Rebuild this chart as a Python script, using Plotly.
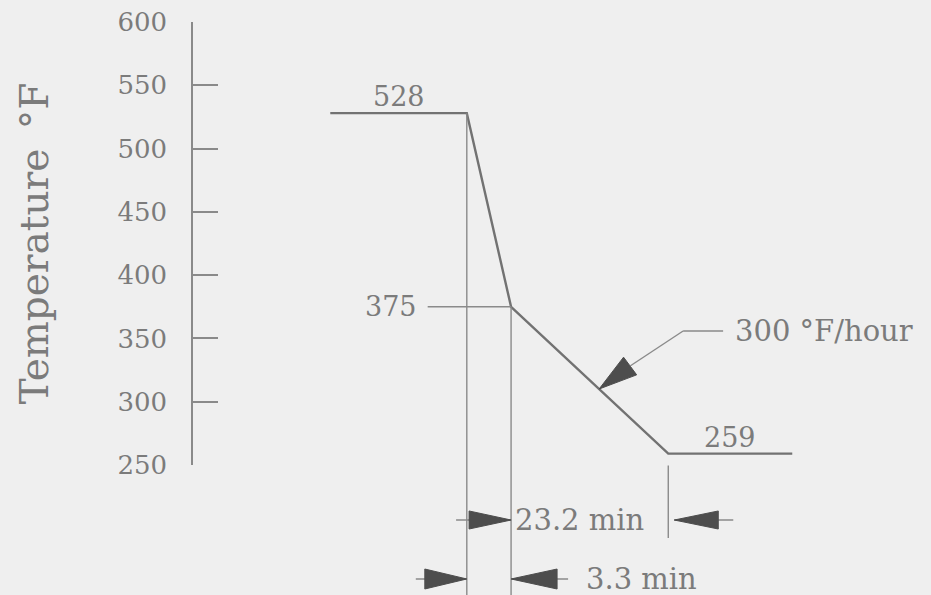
import plotly.graph_objects as go

# Cooldown profile (temperature in °F) at the breakpoints of the schematic time line
temps = [528, 528, 375, 259, 259]
# Horizontal placement of the breakpoints on the (not-to-scale) time axis
x_pos = [18.6, 37.1, 43.1, 64.4, 81.2]
# Durations of the two ramps, in minutes
ramp_minutes = [3.3, 23.2]
rate_text = "300 °F/hour"
ytick_vals = [250, 300, 350, 400, 450, 500, 550, 600]

FONT = "DejaVu Serif"
TXT = "#7b7b7b"
LINE = "#727272"
THIN = "#8a8a8a"
HEAD = "#4d4d4d"
BG = "#efefef"

W, H = 931, 595
ML, MR, MT, MB = 193, 0, 22, 130
PW, PH = W - ML - MR, H - MT - MB
XR = (0, 100)
YR = (250, 600)
PX_X = PW / (XR[1] - XR[0])   # px per x unit
PX_Y = PH                    # px per paper unit


def yp(t):
    """temperature -> paper y"""
    return (t - YR[0]) / (YR[1] - YR[0])


def tri(tx, ty, dx, dy, hw):
    """filled arrowhead: tip at (tx data, ty paper); (dx, dy) px from tip to base (screen, y down)"""
    ln = (dx * dx + dy * dy) ** 0.5
    nx, ny = -dy / ln * hw, dx / ln * hw
    pts = [(0, 0), (dx + nx, dy + ny), (dx - nx, dy - ny)]
    path = ""
    for i, (px, py) in enumerate(pts):
        path += ("M" if i == 0 else "L") + f"{tx + px / PX_X:.4f},{ty - py / PX_Y:.4f} "
    return dict(type="path", path=path + "Z", xref="x", yref="paper",
                fillcolor=HEAD, line=dict(color=HEAD, width=1))


def seg(x0, y0, x1, y1, color=THIN, width=1.4):
    return dict(type="line", xref="x", yref="paper", x0=x0, y0=y0, x1=x1, y1=y1,
                line=dict(color=color, width=width))


fig = go.Figure()
fig.add_trace(go.Scatter(x=x_pos, y=temps, mode="lines",
                         line=dict(color=LINE, width=2.4),
                         hoverinfo="skip", showlegend=False, cliponaxis=False))

bottom = -MB / PH
t_start, t_mid, t_end = x_pos[1], x_pos[2], x_pos[3]
y23 = -55 / PH   # level of the 23.2 min dimension
y33 = -114 / PH  # level of the 3.3 min dimension
ux = 1 / PX_X

shapes = [
    # extension lines
    seg(t_start, yp(temps[1]), t_start, bottom),
    seg(t_mid, yp(temps[2]), t_mid, bottom),
    seg(t_end, yp(temps[3]) - 12 / PH, t_end, -73 / PH),
    # leader for the 375 label
    seg(31.8, yp(temps[2]), t_mid, yp(temps[2])),
    # 23.2 min dimension
    seg(t_mid - 55 * ux, y23, t_mid, y23),
    tri(t_mid, y23, -42, 0, 9),
    seg(t_end + 6 * ux, y23, t_end + 65 * ux, y23),
    tri(t_end + 6 * ux, y23, 44, 0, 9),
    # 3.3 min dimension
    seg(t_start - 51 * ux, y33, t_start, y33),
    tri(t_start, y33, -42, 0, 10),
    seg(t_mid, y33, t_mid + 57 * ux, y33),
    tri(t_mid, y33, 46, 0, 10),
]

# cooldown-rate callout pointing at the 375 -> 259 ramp
f = 0.56
tip_x = x_pos[2] + f * (x_pos[3] - x_pos[2])
tip_y = yp(temps[2] + f * (temps[3] - temps[2]))
shapes.append(tri(tip_x, tip_y, 31, -23, 11))
bx, by = tip_x + 31 * ux, tip_y + 23 / PH
kx, ky = tip_x + 84 * ux, tip_y + 58 / PH
shapes.append(seg(bx, by, kx, ky))
shapes.append(seg(kx, ky, kx + 40 * ux, ky))

num_font = dict(family=FONT, size=27, color=TXT)
txt_font = dict(family=FONT, size=29, color=TXT)
annotations = [
    dict(x=(x_pos[0] + x_pos[1]) / 2, y=temps[0], xref="x", yref="y", text=str(temps[0]),
         showarrow=False, yshift=17, font=num_font),
    dict(x=31.8, y=temps[2], xref="x", yref="y", text=str(temps[2]), xanchor="right",
         showarrow=False, xshift=-9, font=num_font),
    dict(x=(x_pos[3] + x_pos[4]) / 2, y=temps[3], xref="x", yref="y", text=str(temps[3]),
         showarrow=False, yshift=16, font=num_font),
    dict(x=kx + 50 * ux, y=ky, xref="x", yref="paper", text=rate_text, xanchor="left",
         yanchor="middle", showarrow=False, font=txt_font),
    dict(x=t_mid + 2 * ux, y=y23, xref="x", yref="paper", text=f"{ramp_minutes[1]} min",
         xanchor="left", yanchor="middle", showarrow=False, font=txt_font),
    dict(x=t_mid + 73 * ux, y=y33, xref="x", yref="paper", text=f"{ramp_minutes[0]} min",
         xanchor="left", yanchor="middle", showarrow=False, font=txt_font),
]

fig.update_layout(
    width=W, height=H,
    margin=dict(l=ML, r=MR, t=MT, b=MB),
    paper_bgcolor=BG, plot_bgcolor=BG,
    shapes=shapes, annotations=annotations,
    xaxis=dict(range=list(XR), visible=False),
    yaxis=dict(range=list(YR), tickvals=ytick_vals, showgrid=False, zeroline=False,
               showline=True, linecolor=THIN, linewidth=1.5,
               ticks="inside", ticklen=25, tickwidth=1.5, tickcolor=THIN,
               ticklabelstandoff=19,
               tickfont=dict(family=FONT, size=26, color=TXT),
               title=dict(text="Temperature\u2002°F", standoff=57,
                          font=dict(family=FONT, size=39, color=TXT))),
)

fig.write_html("out.html")
